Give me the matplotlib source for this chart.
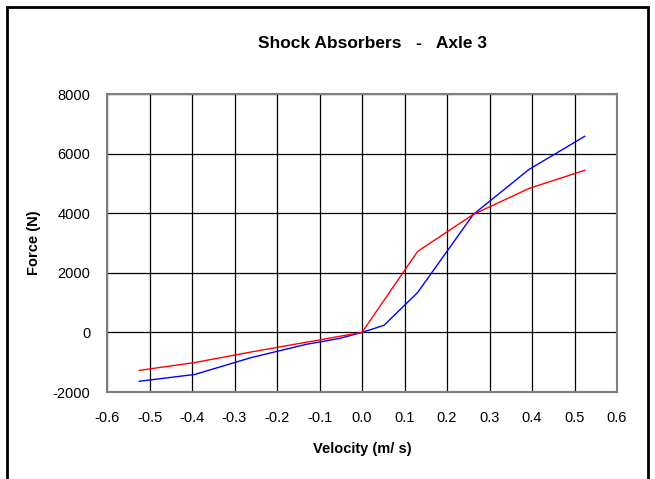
#!/usr/bin/env python3

import matplotlib
matplotlib.use('Agg')
import matplotlib.pyplot as plt
from matplotlib.patches import Rectangle

# velocity (m/s) and force (N)
velocity = [-0.524, -0.393, -0.262, -0.131, -0.052, 0.0, 0.052, 0.131, 0.262, 0.393, 0.524]
force_blue = [-1640, -1410, -850, -400, -200, 0, 240, 1340, 3960, 5470, 6580]
force_red = [-1275, -1010, -660, -330, -130, 0, 1080, 2720, 3960, 4830, 5440]

x_ticks = [-0.6, -0.5, -0.4, -0.3, -0.2, -0.1, 0.0, 0.1, 0.2, 0.3, 0.4, 0.5, 0.6]
y_ticks = [-2000, 0, 2000, 4000, 6000, 8000]


def plot(out):
    plt.rcParams['font.family'] = ['Liberation Sans', 'DejaVu Sans']
    plt.rcParams['axes.unicode_minus'] = False
    fig = plt.figure(figsize=(6.55, 4.79), dpi=100)
    ax = fig.add_axes([107 / 655, 87 / 479, 510 / 655, 298 / 479])

    ax.plot(velocity, force_blue, color='#0000ff', lw=1.0)
    ax.plot(velocity, force_red, color='#ff0000', lw=1.0)

    ax.set_xlim(-0.6, 0.6)
    ax.set_ylim(-2000, 8000)
    ax.set_xticks(x_ticks)
    ax.set_xticklabels(['%.1f' % v for v in x_ticks])
    ax.set_yticks(y_ticks)
    ax.tick_params(length=0, labelsize=10.5)
    ax.tick_params(axis='x', pad=14)
    ax.tick_params(axis='y', pad=12)
    ax.grid(True, color='black', lw=0.9)
    ax.set_axisbelow(True)
    for s in ax.spines.values():
        s.set_color('#808080')
        s.set_linewidth(1.5)

    ax.set_xlabel('Velocity (m/ s)', fontsize=10.5, fontweight='bold', labelpad=12)
    ax.set_ylabel('Force (N)', fontsize=10.5, fontweight='bold', labelpad=8)
    fig.text(372 / 655, 1 - 43 / 479, 'Shock Absorbers   -   Axle 3',
             ha='center', va='center', fontsize=12.5, fontweight='bold')

    # outer frame of the chart area
    fig.patches.append(Rectangle((7 / 655, -0.1), 641 / 655, 1.1 - 7 / 479,
                                 transform=fig.transFigure, fill=False,
                                 edgecolor='black', lw=2))

    fig.savefig(out, dpi=100)


def main():
    plot('out.png')


if __name__ == '__main__':
    main()
